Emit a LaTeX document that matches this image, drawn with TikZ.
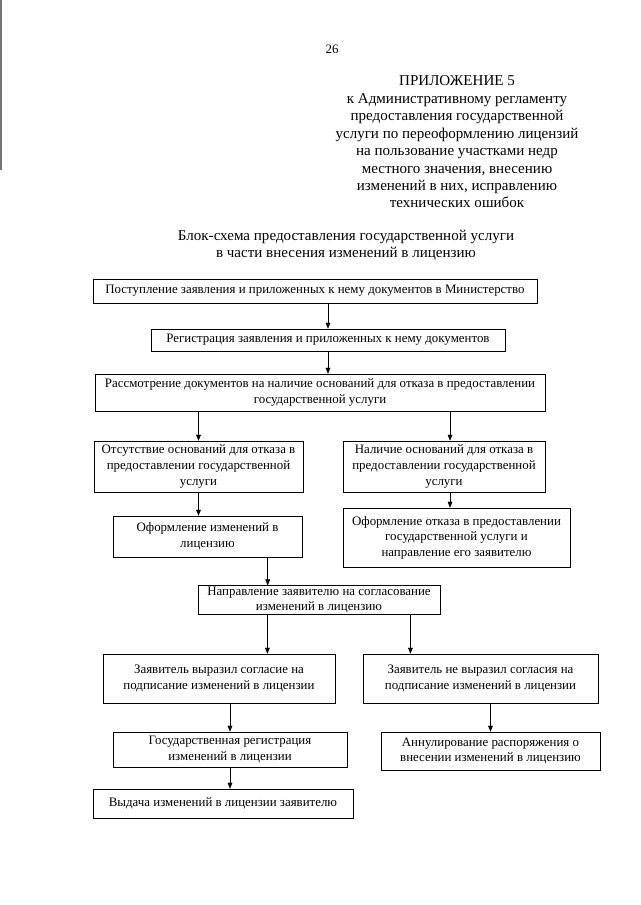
\documentclass[tikz,border=0pt]{standalone}
\usepackage{fontspec}
\setmainfont{Liberation Serif}
\usepackage{tikz}
\usetikzlibrary{arrows.meta}

\begin{document}
\begin{tikzpicture}[x=0.9302pt,y=-0.9302pt,>={Triangle[length=5.5pt,width=4.4pt]},
  font=\fontsize{12}{14.5}\selectfont,
  blk/.style={draw,line width=0.6pt,align=center,inner sep=1pt},
  sz/.style 2 args={minimum width=#1*0.9302pt,minimum height=#2*0.9302pt},
  hdr/.style={align=center,font=\fontsize{14}{16.2}\selectfont}]
  \useasboundingbox (0,0) rectangle (640,905);
  \draw[black!55,line width=1pt] (1,0) -- (1,170);
  % header
  \node (pgno) at (332,49) {26};
  \node[hdr] (annex) at (457,142) {ПРИЛОЖЕНИЕ 5\\к Административному регламенту\\предоставления государственной\\услуги по переоформлению лицензий\\на пользование участками недр\\местного значения, внесению\\изменений в них, исправлению\\технических ошибок};
  \node[hdr] (title) at (346,245.5) {Блок-схема предоставления государственной услуги\\в части внесения изменений в лицензию};
  % blocks
  \node[blk,sz={444}{24}] (recv) at (315,291) {Поступление заявления и приложенных к нему документов в Министерство};
  \node[blk,sz={354}{22}] (reg) at (328,340) {Регистрация заявления и приложенных к нему документов};
  \node[blk,sz={450}{37}] (review) at (320,392.5) {Рассмотрение документов на наличие оснований для отказа в предоставлении\\государственной услуги};
  \node[blk,sz={209}{51}] (nogrnd) at (198.5,466.5) {Отсутствие оснований для отказа в\\предоставлении государственной\\услуги};
  \node[blk,sz={202}{51}] (grnd) at (444,466.5) {Наличие оснований для отказа в\\предоставлении государственной\\услуги};
  \node[blk,sz={189}{41}] (issue) at (207.5,536.5) {Оформление изменений в\\лицензию};
  \node[blk,sz={227}{59}] (refuse) at (456.5,537.5) {Оформление отказа в предоставлении\\государственной услуги и\\направление его заявителю};
  \node[blk,sz={242}{28}] (send) at (319,600) {Направление заявителю на согласование\\изменений в лицензию};
  \node[blk,sz={232}{49}] (agree) at (219,678.5) {Заявитель выразил согласие на\\подписание изменений в лицензии};
  \node[blk,sz={235}{49}] (disagree) at (480.5,678.5) {Заявитель не выразил согласия на\\подписание изменений в лицензии};
  \node[blk,sz={234}{35}] (staterg) at (230,749.5) {Государственная регистрация\\изменений в лицензии};
  \node[blk,sz={219}{38}] (annul) at (490.5,751) {Аннулирование распоряжения о\\внесении изменений в лицензию};
  \node[blk,sz={260}{29}] (handout) at (223,803.5) {Выдача изменений в лицензии заявителю};
  % arrows
  \draw[->] (recv.south -| reg.north) -- (reg.north);
  \draw[->] (reg.south) -- (reg.south |- review.north);
  \draw[->] (review.south -| nogrnd.north) -- (nogrnd.north);
  \draw[->] ([xshift=5.6pt]review.south -| grnd.north) -- ([xshift=5.6pt]grnd.north);
  \draw[->] (nogrnd.south) -- (nogrnd.south |- issue.north);
  \draw[->] ([xshift=5.6pt]grnd.south) -- ([xshift=5.6pt]grnd.south |- refuse.north);
  \draw[->] ([xshift=56pt]issue.south) -- ([xshift=56pt]issue.south |- send.north);
  \draw[->] ([xshift=-48pt]send.south) -- ([xshift=-48pt]send.south |- agree.north);
  \draw[->] ([xshift=85pt]send.south) -- ([xshift=85pt]send.south |- disagree.north);
  \draw[->] (agree.south -| staterg.north) -- (staterg.north);
  \draw[->] (disagree.south -| annul.north) -- (annul.north);
  \draw[->] (staterg.south) -- (staterg.south |- handout.north);
\end{tikzpicture}
\end{document}
